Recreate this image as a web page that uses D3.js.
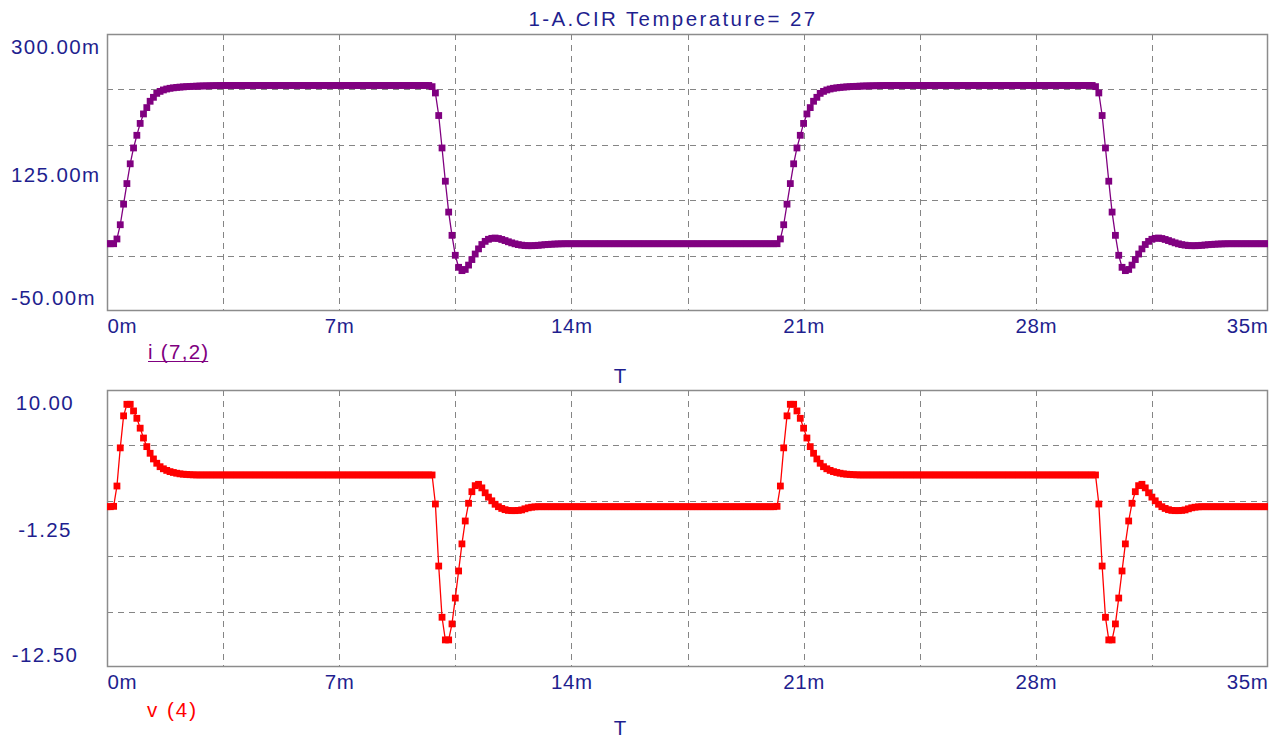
<!DOCTYPE html>
<html><head><meta charset="utf-8">
<script src="https://cdn.jsdelivr.net/npm/d3@7"></script>
<style>
html,body{margin:0;padding:0;background:#fff;}
svg{display:block;}
text{font-family:"Liberation Sans",Arial,sans-serif;}
</style></head>
<body>
<svg id="chart" width="1279" height="740"></svg>
<script>
// ---- data (time in ms, i in mA, v in V) ----
const T_MS = [
0,0.1,0.2,0.3,0.4,0.5,0.6,0.7,0.8,0.9,
1,1.1,1.2,1.3,1.4,1.5,1.6,1.7,1.8,1.9,
2,2.1,2.2,2.3,2.4,2.5,2.6,2.7,2.8,2.9,
3,3.1,3.2,3.3,3.4,3.5,3.6,3.7,3.8,3.9,
4,4.1,4.2,4.3,4.4,4.5,4.6,4.7,4.8,4.9,
5,5.1,5.2,5.3,5.4,5.5,5.6,5.7,5.8,5.9,
6,6.1,6.2,6.3,6.4,6.5,6.6,6.7,6.8,6.9,
7,7.1,7.2,7.3,7.4,7.5,7.6,7.7,7.8,7.9,
8,8.1,8.2,8.3,8.4,8.5,8.6,8.7,8.8,8.9,
9,9.1,9.2,9.3,9.4,9.5,9.6,9.7,9.8,9.9,
10,10.1,10.2,10.3,10.4,10.5,10.6,10.7,10.8,10.9,
11,11.1,11.2,11.3,11.4,11.5,11.6,11.7,11.8,11.9,
12,12.1,12.2,12.3,12.4,12.5,12.6,12.7,12.8,12.9,
13,13.1,13.2,13.3,13.4,13.5,13.6,13.7,13.8,13.9,
14,14.1,14.2,14.3,14.4,14.5,14.6,14.7,14.8,14.9,
15,15.1,15.2,15.3,15.4,15.5,15.6,15.7,15.8,15.9,
16,16.1,16.2,16.3,16.4,16.5,16.6,16.7,16.8,16.9,
17,17.1,17.2,17.3,17.4,17.5,17.6,17.7,17.8,17.9,
18,18.1,18.2,18.3,18.4,18.5,18.6,18.7,18.8,18.9,
19,19.1,19.2,19.3,19.4,19.5,19.6,19.7,19.8,19.9,
20,20.1,20.2,20.3,20.4,20.5,20.6,20.7,20.8,20.9,
21,21.1,21.2,21.3,21.4,21.5,21.6,21.7,21.8,21.9,
22,22.1,22.2,22.3,22.4,22.5,22.6,22.7,22.8,22.9,
23,23.1,23.2,23.3,23.4,23.5,23.6,23.7,23.8,23.9,
24,24.1,24.2,24.3,24.4,24.5,24.6,24.7,24.8,24.9,
25,25.1,25.2,25.3,25.4,25.5,25.6,25.7,25.8,25.9,
26,26.1,26.2,26.3,26.4,26.5,26.6,26.7,26.8,26.9,
27,27.1,27.2,27.3,27.4,27.5,27.6,27.7,27.8,27.9,
28,28.1,28.2,28.3,28.4,28.5,28.6,28.7,28.8,28.9,
29,29.1,29.2,29.3,29.4,29.5,29.6,29.7,29.8,29.9,
30,30.1,30.2,30.3,30.4,30.5,30.6,30.7,30.8,30.9,
31,31.1,31.2,31.3,31.4,31.5,31.6,31.7,31.8,31.9,
32,32.1,32.2,32.3,32.4,32.5,32.6,32.7,32.8,32.9,
33,33.1,33.2,33.3,33.4,33.5,33.6,33.7,33.8,33.9,
34,34.1,34.2,34.3,34.4,34.5,34.6,34.7,34.8,34.9,
35];

const I_7_2 = [
35,35,35,41,59,85,111,136,156,172,
187,199,207,215,220,225,227.5,229.3,230.5,231.4,
232,232.5,232.9,233.2,233.5,233.7,233.9,234.1,234.3,234.4,
234.5,234.6,234.7,234.8,234.9,235,235,235,235,235,
235,235,235,235,235,235,235,235,235,235,
235,235,235,235,235,235,235,235,235,235,
235,235,235,235,235,235,235,235,235,235,
235,235,235,235,235,235,235,235,235,235,
235,235,235,235,235,235,235,235,235,235,
235,235,235,235,235,235,235,235,233.5,225.5,
197,156,114,75,45.6,20.4,5.2,1,2.5,8,
15,22,28.5,34,38,40.6,41.8,42.2,41.6,40.4,
39,37.5,36.1,34.9,33.9,33.2,32.7,32.5,32.5,32.7,
33,33.4,33.8,34.1,34.4,34.6,34.8,34.9,35,35,
35,35,35,35,35,35,35,35,35,35,
35,35,35,35,35,35,35,35,35,35,
35,35,35,35,35,35,35,35,35,35,
35,35,35,35,35,35,35,35,35,35,
35,35,35,35,35,35,35,35,35,35,
35,35,35,35,35,35,35,35,35,35,
35,35,35,41,59,85,111,136,156,172,
187,199,207,215,220,225,227.5,229.3,230.5,231.4,
232,232.5,232.9,233.2,233.5,233.7,233.9,234.1,234.3,234.4,
234.5,234.6,234.7,234.8,234.9,235,235,235,235,235,
235,235,235,235,235,235,235,235,235,235,
235,235,235,235,235,235,235,235,235,235,
235,235,235,235,235,235,235,235,235,235,
235,235,235,235,235,235,235,235,235,235,
235,235,235,235,235,235,235,235,235,235,
235,235,235,235,235,235,235,235,233.5,225.5,
197,156,114,75,45.6,20.4,5.2,1,2.5,8,
15,22,28.5,34,38,40.6,41.8,42.2,41.6,40.4,
39,37.5,36.1,34.9,33.9,33.2,32.7,32.5,32.5,32.7,
33,33.4,33.8,34.1,34.4,34.6,34.8,34.9,35,35,
35,35,35,35,35,35,35,35,35,35,
35];

const V_4 = [
0.52,0.52,0.55,2.2,5.3,7.9,8.84,8.84,8.3,7.7,
6.9,6.1,5.4,4.86,4.4,4.05,3.77,3.6,3.47,3.37,
3.3,3.24,3.19,3.16,3.14,3.12,3.11,3.1,3.1,3.1,
3.1,3.1,3.1,3.1,3.1,3.1,3.1,3.1,3.1,3.1,
3.1,3.1,3.1,3.1,3.1,3.1,3.1,3.1,3.1,3.1,
3.1,3.1,3.1,3.1,3.1,3.1,3.1,3.1,3.1,3.1,
3.1,3.1,3.1,3.1,3.1,3.1,3.1,3.1,3.1,3.1,
3.1,3.1,3.1,3.1,3.1,3.1,3.1,3.1,3.1,3.1,
3.1,3.1,3.1,3.1,3.1,3.1,3.1,3.1,3.1,3.1,
3.1,3.1,3.1,3.1,3.1,3.1,3.1,3.1,3.1,0.74,
-4.3,-8.46,-10.3,-10.3,-9,-6.9,-4.7,-2.5,-0.64,0.8,
1.74,2.23,2.34,2.05,1.65,1.3,1,0.72,0.52,0.38,
0.28,0.22,0.2,0.2,0.22,0.26,0.35,0.43,0.48,0.51,
0.52,0.52,0.52,0.52,0.52,0.52,0.52,0.52,0.52,0.52,
0.52,0.52,0.52,0.52,0.52,0.52,0.52,0.52,0.52,0.52,
0.52,0.52,0.52,0.52,0.52,0.52,0.52,0.52,0.52,0.52,
0.52,0.52,0.52,0.52,0.52,0.52,0.52,0.52,0.52,0.52,
0.52,0.52,0.52,0.52,0.52,0.52,0.52,0.52,0.52,0.52,
0.52,0.52,0.52,0.52,0.52,0.52,0.52,0.52,0.52,0.52,
0.52,0.52,0.52,0.52,0.52,0.52,0.52,0.52,0.52,0.52,
0.52,0.52,0.55,2.2,5.3,7.9,8.84,8.84,8.3,7.7,
6.9,6.1,5.4,4.86,4.4,4.05,3.77,3.6,3.47,3.37,
3.3,3.24,3.19,3.16,3.14,3.12,3.11,3.1,3.1,3.1,
3.1,3.1,3.1,3.1,3.1,3.1,3.1,3.1,3.1,3.1,
3.1,3.1,3.1,3.1,3.1,3.1,3.1,3.1,3.1,3.1,
3.1,3.1,3.1,3.1,3.1,3.1,3.1,3.1,3.1,3.1,
3.1,3.1,3.1,3.1,3.1,3.1,3.1,3.1,3.1,3.1,
3.1,3.1,3.1,3.1,3.1,3.1,3.1,3.1,3.1,3.1,
3.1,3.1,3.1,3.1,3.1,3.1,3.1,3.1,3.1,3.1,
3.1,3.1,3.1,3.1,3.1,3.1,3.1,3.1,3.1,0.74,
-4.3,-8.46,-10.3,-10.3,-9,-6.9,-4.7,-2.5,-0.64,0.8,
1.74,2.23,2.34,2.05,1.65,1.3,1,0.72,0.52,0.38,
0.28,0.22,0.2,0.2,0.22,0.26,0.35,0.43,0.48,0.51,
0.52,0.52,0.52,0.52,0.52,0.52,0.52,0.52,0.52,0.52,
0.52,0.52,0.52,0.52,0.52,0.52,0.52,0.52,0.52,0.52,
0.52];

const X_TICKS = [0, 7, 14, 21, 28, 35];
const X_TICK_LABELS = ["0m", "7m", "14m", "21m", "28m", "35m"];
const X_GRID = [3.5, 7, 10.5, 14, 17.5, 21, 24.5, 28, 31.5];
const I_TICKS = [300, 125, -50];
const I_TICK_LABELS = ["300.00m", "125.00m", "-50.00m"];
const I_GRID = [230, 160, 90, 20];
const V_TICKS = [10, -1.25, -12.5];
const V_TICK_LABELS = ["10.00", "-1.25", "-12.50"];
const V_GRID = [5.5, 1, -3.5, -8];
const TITLE = "1-A.CIR Temperature= 27";

// ---- drawing ----
const svg = d3.select("#chart");
const AXIS_COLOR = "#1f1f8f";
const GRID_COLOR = "#858585";
const FS = 20.5;
const L = 107, R = 1268;

svg.append("rect").attr("width",1279).attr("height",740).attr("fill","#fff");

svg.append("text").attr("x", 673).attr("y", 26).attr("text-anchor","middle")
  .attr("fill", AXIS_COLOR).attr("font-size", FS).attr("letter-spacing", "2.4px").text(TITLE);

function panel(opts) {
  const {top, bottom, domain, ticks, tickLabels, grid, values, color, name, labelAnchor, labelX, labelOffsets, legendX, legendY, legendSpacing, underline, tY, id} = opts;
  const x = d3.scaleLinear().domain([0, 35]).range([L, R]);
  const y = d3.scaleLinear().domain(domain).range([bottom, top]);
  const g = svg.append("g");

  svg.append("clipPath").attr("id", "clip"+id).append("rect")
    .attr("x", L).attr("y", top).attr("width", R-L).attr("height", bottom-top);

  // grid
  g.append("g").selectAll("line").data(X_GRID).join("line")
    .attr("x1", d => Math.round(x(d))+0.5).attr("x2", d => Math.round(x(d))+0.5)
    .attr("y1", top).attr("y2", bottom)
    .attr("stroke", GRID_COLOR).attr("stroke-width", 1).attr("stroke-dasharray", "6,5");
  g.append("g").selectAll("line").data(grid).join("line")
    .attr("y1", d => Math.round(y(d))+0.5).attr("y2", d => Math.round(y(d))+0.5)
    .attr("x1", L).attr("x2", R)
    .attr("stroke", GRID_COLOR).attr("stroke-width", 1).attr("stroke-dasharray", "6,5");

  // frame
  g.append("rect").attr("x", L+0.5).attr("y", top+0.5).attr("width", R-L-1).attr("height", bottom-top-1)
    .attr("fill","none").attr("stroke","#8c8c8c").attr("stroke-width",1.5);

  // y axis labels
  const yAxis = d3.axisLeft(y).tickValues(ticks).tickSize(0).tickFormat((d,i) => tickLabels[i]);
  const ya = g.append("g").attr("transform", `translate(${L},0)`).call(yAxis);
  ya.select(".domain").remove();
  ya.selectAll("text").attr("fill", AXIS_COLOR).attr("font-size", FS)
    .attr("font-family", '"Liberation Sans",Arial,sans-serif')
    .attr("letter-spacing", "1.4px")
    .attr("text-anchor", labelAnchor).attr("x", labelX - L)
    .attr("dy", (d,i) => (labelOffsets[i] + 0.36*FS) + "px");

  // x axis labels
  const xAxis = d3.axisBottom(x).tickValues(X_TICKS).tickSize(0).tickFormat((d,i) => X_TICK_LABELS[i]);
  const xa = g.append("g").attr("transform", `translate(0,${bottom})`).call(xAxis);
  xa.select(".domain").remove();
  xa.selectAll("text").attr("fill", AXIS_COLOR).attr("font-size", FS)
    .attr("font-family", '"Liberation Sans",Arial,sans-serif')
    .attr("letter-spacing", "0.6px")
    .attr("y", 0).attr("dy", (14.5 + 0.36*FS) + "px")
    .attr("text-anchor", (d,i) => i === 0 ? "start" : (i === X_TICKS.length-1 ? "end" : "middle"));

  // data
  const data = T_MS.map((t,i) => ({t, v: values[i]}));
  const dg = g.append("g").attr("clip-path", `url(#clip${id})`);
  dg.append("path").datum(data)
    .attr("d", d3.line().x(d => x(d.t)).y(d => y(d.v)))
    .attr("fill","none").attr("stroke", color).attr("stroke-width", 1.3);
  const S = 6.8;
  dg.append("g").selectAll("rect").data(data).join("rect")
    .attr("x", d => x(d.t) - S/2).attr("y", d => y(d.v) - S/2)
    .attr("width", S).attr("height", S).attr("fill", color);

  // legend
  const lt = g.append("text").attr("x", legendX).attr("y", legendY).attr("fill", color)
    .attr("font-size", FS).attr("letter-spacing", legendSpacing + "px").text(name);
  if (underline) {
    const w = lt.node().getComputedTextLength();
    g.append("line").attr("x1", legendX).attr("x2", legendX + w - legendSpacing)
      .attr("y1", legendY + 2.5).attr("y2", legendY + 2.5).attr("stroke", color).attr("stroke-width", 1.2);
  }
  g.append("text").attr("x", 620).attr("y", tY).attr("text-anchor","middle")
    .attr("fill", AXIS_COLOR).attr("font-size", FS).text("T");
}

panel({id: 1, top: 34, bottom: 311, domain: [-50, 300], ticks: I_TICKS, tickLabels: I_TICK_LABELS,
  grid: I_GRID, values: I_7_2, color: "#800080", name: "i (7,2)",
  labelAnchor: "start", labelX: 11, labelOffsets: [12, 2, -13.5],
  legendX: 148, legendY: 359, legendSpacing: 1.3, underline: true, tY: 383});

panel({id: 2, top: 390, bottom: 667, domain: [-12.5, 10], ticks: V_TICKS, tickLabels: V_TICK_LABELS,
  grid: V_GRID, values: V_4, color: "#ff0000", name: "v (4)",
  labelAnchor: "middle", labelX: 45, labelOffsets: [12.5, 0.5, -13],
  legendX: 147, legendY: 717, legendSpacing: 2, underline: false, tY: 735});
</script>
</body></html>
